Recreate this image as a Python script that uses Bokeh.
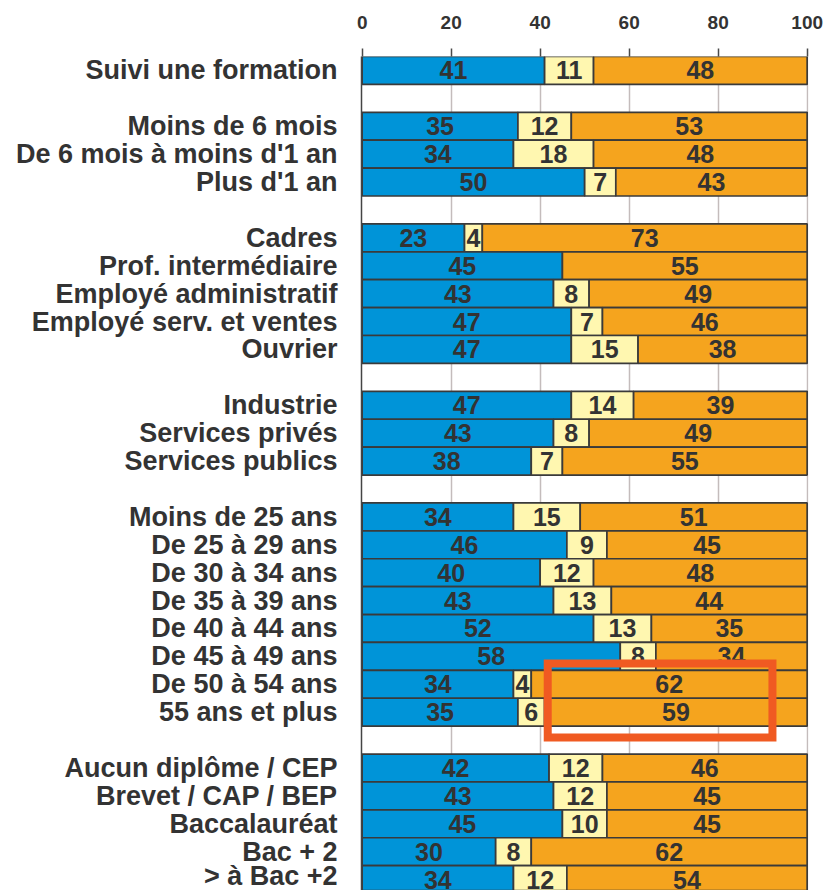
from bokeh.plotting import figure
from bokeh.models import ColumnDataSource, Range1d, FixedTicker, BoxAnnotation
from bokeh.core.properties import value
from bokeh.embed import file_html
from bokeh.resources import INLINE

# ---- data ----
groups = [
    ["Suivi une formation"],
    ["Moins de 6 mois", "De 6 mois à moins d'1 an", "Plus d'1 an"],
    ["Cadres", "Prof. intermédiaire", "Employé administratif",
     "Employé serv. et ventes", "Ouvrier"],
    ["Industrie", "Services privés", "Services publics"],
    ["Moins de 25 ans", "De 25 à 29 ans", "De 30 à 34 ans", "De 35 à 39 ans",
     "De 40 à 44 ans", "De 45 à 49 ans", "De 50 à 54 ans", "55 ans et plus"],
    ["Aucun diplôme / CEP", "Brevet / CAP / BEP", "Baccalauréat", "Bac + 2",
     "> à Bac +2"],
]
serie_1 = [41, 35, 34, 50, 23, 45, 43, 47, 47, 47, 43, 38,
           34, 46, 40, 43, 52, 58, 34, 35, 42, 43, 45, 30, 34]
serie_2 = [11, 12, 18, 7, 4, 0, 8, 7, 15, 14, 8, 7,
           15, 9, 12, 13, 13, 8, 4, 6, 12, 12, 10, 8, 12]
serie_3 = [48, 53, 48, 43, 73, 55, 49, 46, 38, 39, 49, 55,
           51, 45, 48, 44, 35, 34, 62, 59, 46, 45, 45, 62, 54]
x_ticks = [0, 20, 40, 60, 80, 100]
colors = ["#0094d8", "#fff7b0", "#f5a41e"]

highlight_rows = ["De 50 à 54 ans", "55 ans et plus"]
highlight_x = (41.7, 92.2)

# ---- layout of rows (gap slot between groups) ----
categories, slots = [], []
slot = 0
for gi, g in enumerate(groups):
    if gi > 0:
        slot += 1
    for c in g:
        categories.append(c)
        slots.append(slot)
        slot += 1

seg_left, seg_right, seg_y, seg_color, lab_x, lab_y, lab_t = [], [], [], [], [], [], []
for i, y in enumerate(slots):
    start = 0
    for k, v in enumerate([serie_1[i], serie_2[i], serie_3[i]]):
        if v > 0:
            seg_left.append(start)
            seg_right.append(start + v)
            seg_y.append(y)
            seg_color.append(colors[k])
            lab_x.append(start + v / 2)
            lab_y.append(y)
            lab_t.append(str(v))
        start += v

bars = ColumnDataSource(dict(left=seg_left, right=seg_right, y=seg_y, color=seg_color))
labels = ColumnDataSource(dict(x=lab_x, y=lab_y, t=lab_t))

p = figure(width=827, height=890, output_backend="svg", toolbar_location=None,
           x_range=Range1d(-0.15, 100.3), y_range=Range1d(29.39, -0.5),
           x_axis_location="above",
           min_border_left=361, min_border_right=19, min_border_top=56,
           min_border_bottom=0)
p.outline_line_color = None
p.background_fill_color = "white"

p.hbar(y="y", left="left", right="right", height=1.0, fill_color="color",
       line_color="#3a3a3a", line_width=1.7, source=bars)
p.text(x="x", y="y", text="t", source=labels, text_align="center",
       text_baseline="middle", text_font=value("Liberation Sans"),
       text_font_style="bold", text_font_size="25px", text_color="#333333")

hl_idx = [slots[categories.index(c)] for c in highlight_rows]
p.add_layout(BoxAnnotation(left=highlight_x[0], right=highlight_x[1],
                           top=min(hl_idx) - 0.75, bottom=max(hl_idx) + 0.91,
                           fill_color=None, fill_alpha=0,
                           line_color="#f05a22", line_alpha=1.0, line_width=8,
                           line_join="miter"))

# x axis (top)
xa = p.xaxis[0]
xa.ticker = FixedTicker(ticks=x_ticks)
xa.axis_line_color = None
xa.major_tick_out = 8
xa.major_tick_in = 0
xa.major_tick_line_color = "#4a4a4a"
xa.major_tick_line_width = 1.5
xa.minor_tick_line_color = None
xa.major_label_standoff = 20
xa.major_label_text_font = "Liberation Sans"
xa.major_label_text_font_style = "bold"
xa.major_label_text_font_size = "19px"
xa.major_label_text_color = "#333333"

# y axis (left, categories)
ya = p.yaxis[0]
ya.ticker = FixedTicker(ticks=slots)
ya.major_label_overrides = {s: c for s, c in zip(slots, categories)}
ya.axis_line_color = "#444444"
ya.axis_line_width = 1.5
ya.major_tick_out = 0
ya.major_tick_in = 0
ya.minor_tick_line_color = None
ya.major_label_standoff = 24
ya.major_label_text_font = "Liberation Sans"
ya.major_label_text_font_style = "bold"
ya.major_label_text_font_size = "27px"
ya.major_label_text_color = "#333333"

p.xgrid.ticker = FixedTicker(ticks=x_ticks[1:])
p.xgrid.grid_line_color = "#c4bcbc"
p.xgrid.grid_line_width = 1.5
p.ygrid.grid_line_color = None

open("out.html", "w").write(file_html(p, INLINE))
